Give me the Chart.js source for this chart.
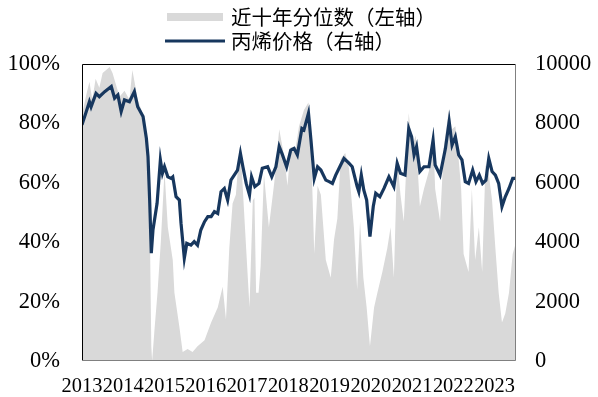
<!DOCTYPE html>
<html>
<head>
<meta charset="utf-8">
<script src="https://cdn.jsdelivr.net/npm/chart.js@4.4.1/dist/chart.umd.min.js"></script>
<style>
  html, body { margin: 0; padding: 0; background: #fff; }
</style>
</head>
<body>
<canvas id="output" width="598" height="397"></canvas>
<script>
// series labels
const pctLabel = "近十年分位数（左轴）";
const priceLabel = "丙烯价格（右轴）";

// 10y percentile (left axis, %)
const pctYears = [2013.00, 2013.11, 2013.18, 2013.25, 2013.33, 2013.42, 2013.50, 2013.67, 2013.74, 2013.91,
  2014.03, 2014.15, 2014.22, 2014.30, 2014.35, 2014.48, 2014.56, 2014.60, 2014.64, 2014.68,
  2014.70, 2014.76, 2014.83, 2014.91, 2015.00, 2015.08, 2015.20, 2015.24, 2015.36, 2015.44,
  2015.56, 2015.68, 2015.80, 2015.97, 2016.13, 2016.29, 2016.41, 2016.49, 2016.57, 2016.65,
  2016.73, 2016.82, 2016.87, 2016.95, 2017.06, 2017.14, 2017.18, 2017.22, 2017.28, 2017.33,
  2017.41, 2017.53, 2017.66, 2017.78, 2017.90, 2017.98, 2018.06, 2018.18, 2018.26, 2018.38,
  2018.49, 2018.57, 2018.63, 2018.71, 2018.79, 2018.91, 2019.03, 2019.11, 2019.19, 2019.27,
  2019.38, 2019.47, 2019.59, 2019.67, 2019.74, 2019.82, 2019.90, 2019.98, 2020.08, 2020.16,
  2020.28, 2020.40, 2020.48, 2020.56, 2020.64, 2020.72, 2020.80, 2020.92, 2021.00, 2021.09,
  2021.19, 2021.29, 2021.41, 2021.51, 2021.56, 2021.68, 2021.77, 2021.89, 2021.97, 2022.05,
  2022.13, 2022.19, 2022.25, 2022.37, 2022.45, 2022.53, 2022.62, 2022.70, 2022.78, 2022.86,
  2022.94, 2023.02, 2023.10, 2023.18, 2023.26, 2023.35, 2023.44, 2023.52];
const pctValues = [83, 90, 94, 88, 95, 92, 97, 99, 97, 89,
  91, 88, 98, 92, 88, 83, 75.5, 70, 50, 5,
  0, 11, 23, 40, 64, 45, 34, 23, 11.5, 3,
  4, 3, 5, 7, 13, 18, 25, 14, 38, 53,
  56, 72, 65, 45, 18, 54, 55, 23, 23, 32,
  63, 45, 60, 78, 69, 59, 72, 72, 79, 84.5,
  87, 64, 36, 59, 56, 34, 28, 41, 48, 68,
  70, 65, 45, 24, 47, 28, 18, 5, 18, 23,
  30, 38, 45, 28, 68, 56, 47, 83.5, 72, 76,
  52, 58, 64, 77, 58, 47, 72, 84.5, 78, 79,
  68, 58, 36, 30, 58, 34, 45, 30, 66, 63,
  54, 38, 23, 13, 16, 23, 36, 40];

// propylene price (right axis)
const priceYears = [2013.00, 2013.18, 2013.22, 2013.34, 2013.42, 2013.55, 2013.71, 2013.79, 2013.87, 2013.95,
  2014.03, 2014.15, 2014.27, 2014.35, 2014.48, 2014.56, 2014.60, 2014.64, 2014.68, 2014.72,
  2014.82, 2014.90, 2014.95, 2015.00, 2015.08, 2015.16, 2015.20, 2015.28, 2015.36, 2015.40,
  2015.48, 2015.54, 2015.64, 2015.72, 2015.80, 2015.88, 2015.97, 2016.05, 2016.13, 2016.21,
  2016.29, 2016.37, 2016.45, 2016.53, 2016.61, 2016.69, 2016.77, 2016.84, 2016.90, 2016.98,
  2017.06, 2017.11, 2017.19, 2017.29, 2017.37, 2017.50, 2017.60, 2017.70, 2017.78, 2017.86,
  2017.96, 2018.06, 2018.14, 2018.22, 2018.33, 2018.38, 2018.49, 2018.55, 2018.63, 2018.71,
  2018.79, 2018.91, 2018.99, 2019.07, 2019.15, 2019.27, 2019.35, 2019.47, 2019.55, 2019.67,
  2019.71, 2019.77, 2019.83, 2019.90, 2019.98, 2020.06, 2020.12, 2020.22, 2020.32, 2020.44,
  2020.56, 2020.64, 2020.72, 2020.83, 2020.92, 2020.99, 2021.05, 2021.11, 2021.19, 2021.29,
  2021.41, 2021.51, 2021.56, 2021.68, 2021.81, 2021.90, 2021.97, 2022.05, 2022.13, 2022.21,
  2022.29, 2022.37, 2022.47, 2022.55, 2022.63, 2022.71, 2022.79, 2022.86, 2022.94, 2023.02,
  2023.10, 2023.18, 2023.26, 2023.35, 2023.44, 2023.52];
const priceValues = [7950, 8730, 8560, 9010, 8900, 9070, 9240, 8850, 8960, 8400,
  8790, 8730, 9070, 8560, 8230, 7500, 6880, 5420, 3630, 4410,
  5310, 6770, 6320, 6540, 6200, 6150, 6200, 5530, 5420, 4640,
  3460, 3960, 3900, 4020, 3900, 4410, 4690, 4860, 4860, 5030,
  4970, 5700, 5810, 5420, 6090, 6260, 6430, 6990, 6540, 5980,
  5590, 6200, 5870, 5980, 6490, 6540, 6200, 6540, 7220, 6940,
  6540, 7100, 7160, 6940, 7830, 7780, 8340, 7440, 6150, 6540,
  6430, 6090, 6040, 5980, 6260, 6600, 6820, 6660, 6540, 5870,
  5700, 6260, 5760, 5420, 4190, 5200, 5650, 5530, 5810, 6200,
  5870, 6660, 6320, 6260, 7830, 7550, 6940, 7220, 6380, 6540,
  6540, 7440, 6600, 6260, 7160, 8060, 7270, 7550, 6940, 6770,
  6040, 5980, 6430, 6040, 6260, 5980, 6090, 6820, 6380, 6260,
  5980, 5200, 5530, 5810, 6150, 6150];

// axis ticks
const yearTicks = [2013, 2014, 2015, 2016, 2017, 2018, 2019, 2020, 2021, 2022, 2023];
const pctTicks = [0, 20, 40, 60, 80, 100];
const priceTicks = [0, 2000, 4000, 6000, 8000, 10000];

const serif = "'Liberation Serif', 'Times New Roman', serif";
const cjk = "'Noto Sans CJK SC', sans-serif";

// plot frame (darker top/left, grey right/bottom like the original)
const framePlugin = {
  id: "frame",
  afterDatasetsDraw(chart) {
    const { ctx, chartArea: a } = chart;
    ctx.save();
    ctx.lineWidth = 1;
    ctx.strokeStyle = "#000";
    ctx.beginPath();
    ctx.moveTo(a.left + 0.5, a.bottom);
    ctx.lineTo(a.left + 0.5, a.top + 0.5);
    ctx.lineTo(a.right, a.top + 0.5);
    ctx.stroke();
    ctx.strokeStyle = "#808080";
    ctx.beginPath();
    ctx.moveTo(a.right - 0.5, a.top);
    ctx.lineTo(a.right - 0.5, a.bottom - 0.5);
    ctx.lineTo(a.left, a.bottom - 0.5);
    ctx.stroke();
    ctx.restore();
  },
};

// stacked, left-aligned legend at the top
const stackLegend = {
  id: "stackLegend",
  afterDraw(chart) {
    const { ctx } = chart;
    const ds = chart.data.datasets;
    ctx.save();
    ctx.font = "20.5px " + cjk;
    ctx.textBaseline = "middle";
    // area swatch
    ctx.fillStyle = ds[0].backgroundColor;
    ctx.fillRect(167, 13, 56, 8);
    ctx.fillStyle = "#000";
    ctx.fillText(ds[0].label, 231, 17);
    // line swatch
    ctx.strokeStyle = ds[1].borderColor;
    ctx.lineWidth = 3;
    ctx.beginPath();
    ctx.moveTo(165, 41);
    ctx.lineTo(225, 41);
    ctx.stroke();
    ctx.fillText(ds[1].label, 231, 41);
    ctx.restore();
  },
};

new Chart(document.getElementById("output"), {
  type: "line",
  data: {
    datasets: [
      {
        label: pctLabel,
        data: pctYears.map((x, i) => ({ x, y: pctValues[i] })),
        yAxisID: "yL",
        backgroundColor: "#d9d9d9",
        borderWidth: 0,
        fill: "origin",
        pointRadius: 0,
        tension: 0,
        order: 1,
      },
      {
        label: priceLabel,
        data: priceYears.map((x, i) => ({ x, y: priceValues[i] })),
        yAxisID: "yR",
        borderColor: "#17375e",
        borderWidth: 3.2,
        fill: false,
        pointRadius: 0,
        tension: 0,
        order: 0,
      },
    ],
  },
  options: {
    responsive: false,
    animation: false,
    layout: { padding: { top: 64, left: 0, right: 0, bottom: 0 } },
    plugins: {
      legend: { display: false },
      tooltip: { enabled: false },
    },
    scales: {
      x: {
        type: "linear",
        min: 2013,
        max: 2023.52,
        grid: { display: false, drawTicks: false },
        border: { display: false },
        afterBuildTicks: (s) => { s.ticks = yearTicks.map((v) => ({ value: v })); },
        afterFit: (s) => { s.height = 36; },
        ticks: {
          autoSkip: false,
          maxRotation: 0,
          padding: 13,
          color: "#000",
          font: { family: serif, size: 20.4 },
          callback: (v) => String(v),
        },
      },
      yL: {
        position: "left",
        min: 0,
        max: 100,
        grid: { display: false, drawTicks: false },
        border: { display: false },
        afterBuildTicks: (s) => { s.ticks = pctTicks.map((v) => ({ value: v })); },
        afterFit: (s) => { s.width = 82; },
        ticks: {
          padding: 22,
          color: "#000",
          font: { family: serif, size: 22.5 },
          callback: (v) => v + "%",
        },
      },
      yR: {
        position: "right",
        min: 0,
        max: 10000,
        grid: { display: false, drawTicks: false },
        border: { display: false },
        afterBuildTicks: (s) => { s.ticks = priceTicks.map((v) => ({ value: v })); },
        afterFit: (s) => { s.width = 82; },
        ticks: {
          padding: 19,
          color: "#000",
          font: { family: serif, size: 22.5 },
          callback: (v) => String(v),
        },
      },
    },
  },
  plugins: [framePlugin, stackLegend],
});
</script>
</body>
</html>
